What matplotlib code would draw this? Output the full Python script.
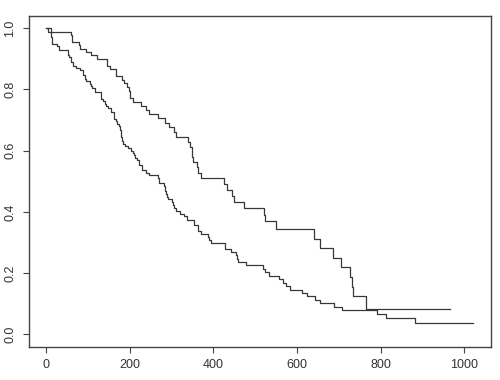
import matplotlib
matplotlib.use("Agg")
import matplotlib.pyplot as plt

# Kaplan-Meier steps (time, survival after the step)
# lower curve
time_a = [0, 11, 12, 13, 15, 26, 30, 31, 53, 54, 59, 60, 65, 71, 81, 88, 92, 93,
          95, 105, 107, 110, 116, 118, 131, 132, 135, 142, 144, 147, 156, 163,
          166, 170, 175, 176, 177, 179, 180, 181, 183, 189, 197, 202, 207, 210,
          212, 218, 222, 223, 229, 230, 239, 246, 267, 269, 270, 283, 284, 285,
          286, 288, 291, 301, 303, 306, 310, 320, 329, 337, 353, 363, 364, 371,
          387, 390, 394, 428, 429, 442, 455, 457, 460, 477, 519, 524, 533, 558,
          567, 574, 583, 613, 624, 643, 655, 689, 707, 791, 814, 883, 1022]
surv_a = [1.0, 0.978, 0.971, 0.957, 0.949, 0.942, 0.935, 0.928, 0.913, 0.906,
          0.899, 0.891, 0.877, 0.870, 0.862, 0.848, 0.841, 0.833, 0.826, 0.819,
          0.812, 0.804, 0.797, 0.790, 0.783, 0.768, 0.761, 0.754, 0.746, 0.739,
          0.725, 0.703, 0.696, 0.688, 0.681, 0.674, 0.666, 0.652, 0.645, 0.630,
          0.623, 0.616, 0.608, 0.600, 0.593, 0.585, 0.577, 0.569, 0.561, 0.553,
          0.545, 0.536, 0.528, 0.520, 0.511, 0.503, 0.494, 0.486, 0.477, 0.468,
          0.459, 0.450, 0.442, 0.433, 0.423, 0.414, 0.404, 0.394, 0.385, 0.375,
          0.356, 0.346, 0.337, 0.327, 0.318, 0.308, 0.298, 0.288, 0.278, 0.268,
          0.258, 0.247, 0.236, 0.225, 0.214, 0.203, 0.192, 0.180, 0.169, 0.158,
          0.146, 0.135, 0.124, 0.112, 0.101, 0.090, 0.079, 0.068, 0.054, 0.036,
          0.036]

# upper curve
time_b = [0, 5, 60, 61, 62, 79, 81, 95, 107, 122, 145, 153, 166, 167, 182, 186,
          194, 199, 201, 208, 226, 239, 245, 268, 285, 293, 305, 310, 340, 345,
          348, 350, 351, 361, 363, 371, 426, 433, 444, 450, 473, 520, 524, 550,
          641, 654, 687, 705, 728, 731, 735, 765, 965]
surv_b = [1.0, 0.989, 0.978, 0.967, 0.956, 0.944, 0.933, 0.922, 0.911, 0.900,
          0.877, 0.866, 0.855, 0.844, 0.832, 0.820, 0.808, 0.796, 0.772, 0.760,
          0.747, 0.734, 0.720, 0.706, 0.691, 0.676, 0.660, 0.645, 0.628, 0.612,
          0.595, 0.579, 0.562, 0.545, 0.528, 0.510, 0.491, 0.471, 0.451, 0.432,
          0.412, 0.390, 0.369, 0.344, 0.313, 0.281, 0.250, 0.219, 0.188, 0.156,
          0.125, 0.083, 0.083]

x_ticks = [0, 200, 400, 600, 800, 1000]
y_ticks = [0.0, 0.2, 0.4, 0.6, 0.8, 1.0]

plt.rcParams['font.family'] = ['Liberation Sans', 'DejaVu Sans']

fig = plt.figure(figsize=(5, 3.8), dpi=100)
ax = fig.add_axes([0.058, 0.088, 0.923, 0.870])

line_col = '#383838'
ax.step(time_a, surv_a, where='post', color=line_col, lw=0.9)
ax.step(time_b, surv_b, where='post', color=line_col, lw=0.9)

ax.set_xlim(-41, 1063)
ax.set_ylim(-0.04, 1.04)
ax.set_xticks(x_ticks)
ax.set_xticklabels([str(t) for t in x_ticks])
ax.set_yticks(y_ticks)
ax.set_yticklabels(['%.1f' % t for t in y_ticks], rotation=90, va='center')

for s in ax.spines.values():
    s.set_color('#444444')
    s.set_linewidth(1.0)
ax.tick_params(direction='out', length=4.3, width=0.8, color='#444444',
               labelsize=9, labelcolor='#333333', pad=5)

fig.savefig('out.png', dpi=100)
